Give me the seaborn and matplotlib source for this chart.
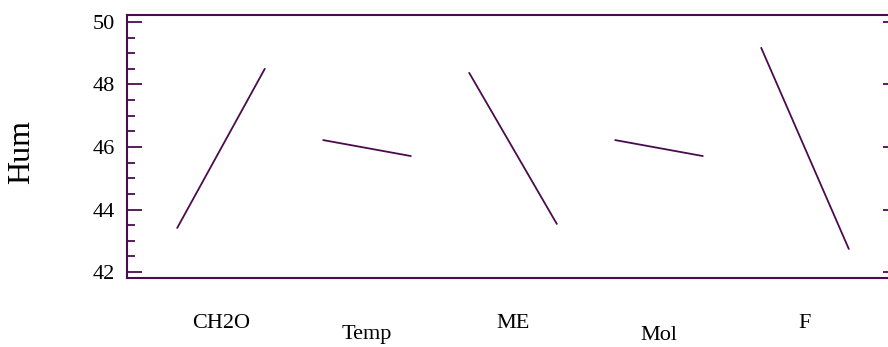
import matplotlib
matplotlib.use("Agg")
import matplotlib.pyplot as plt
import seaborn as sns
import pandas as pd
from matplotlib.ticker import MultipleLocator

factors = ["CH2O", "Temp", "ME", "Mol", "F"]
hum_low = [43.41, 46.22, 48.37, 46.22, 49.17]
hum_high = [48.50, 45.71, 43.54, 45.71, 42.74]
ytick_values = [42, 44, 46, 48, 50]

sns.set_theme(style="white")
plt.rcParams["font.family"] = ["Liberation Serif", "DejaVu Serif"]

PURPLE = "#4a0c4e"
PX = 72.0 / 100.0  # points per pixel

fig = plt.figure(figsize=(8.88, 3.47), dpi=100)
W, H = 888, 347
ax = fig.add_axes([127 / W, (H - 278) / H, (898 - 127) / W, (278 - 15) / H])

half = 0.3
rows = []
for i, (f, lo, hi) in enumerate(zip(factors, hum_low, hum_high)):
    rows.append({"factor": f, "x": i - half, "Hum": lo})
    rows.append({"factor": f, "x": i + half, "Hum": hi})
df = pd.DataFrame(rows)

for f in factors:
    sns.lineplot(data=df[df["factor"] == f], x="x", y="Hum", ax=ax,
                 color=PURPLE, linewidth=1.3, estimator=None, sort=False)

unit = 146.0
x0 = -(221 - 127) / unit
x1 = x0 + (898 - 127) / unit
ax.set_xlim(x0, x1)
ax.set_ylim(41.81, 50.22)

for side in ["left", "right", "top", "bottom"]:
    ax.spines[side].set_color(PURPLE)
    ax.spines[side].set_linewidth(1.5)

ax.set_xticks([])
ax.set_yticks(ytick_values)
ax.yaxis.set_minor_locator(MultipleLocator(0.5))
ax.tick_params(axis="y", which="major", direction="in", length=15 * PX, width=1.3,
               color=PURPLE, labelsize=16, labelcolor="black", pad=12 * PX,
               left=True, right=True)
ax.tick_params(axis="y", which="minor", direction="in", length=8 * PX, width=1.3,
               color=PURPLE, left=True, right=False)
ax.set_xlabel("")
ax.set_ylabel("")

fig.text(22 / W, 1 - 152 / H, "Hum", rotation=90, ha="center", va="center",
         fontsize=23, color="black")

for i, f in enumerate(factors):
    off = -45 if i % 2 == 0 else -57
    ax.annotate(f, xy=(i, 0), xycoords=("data", "axes fraction"),
                xytext=(0, off), textcoords="offset pixels",
                ha="center", va="center", fontsize=16, color="black",
                annotation_clip=False)

fig.savefig("out.png", dpi=100)
